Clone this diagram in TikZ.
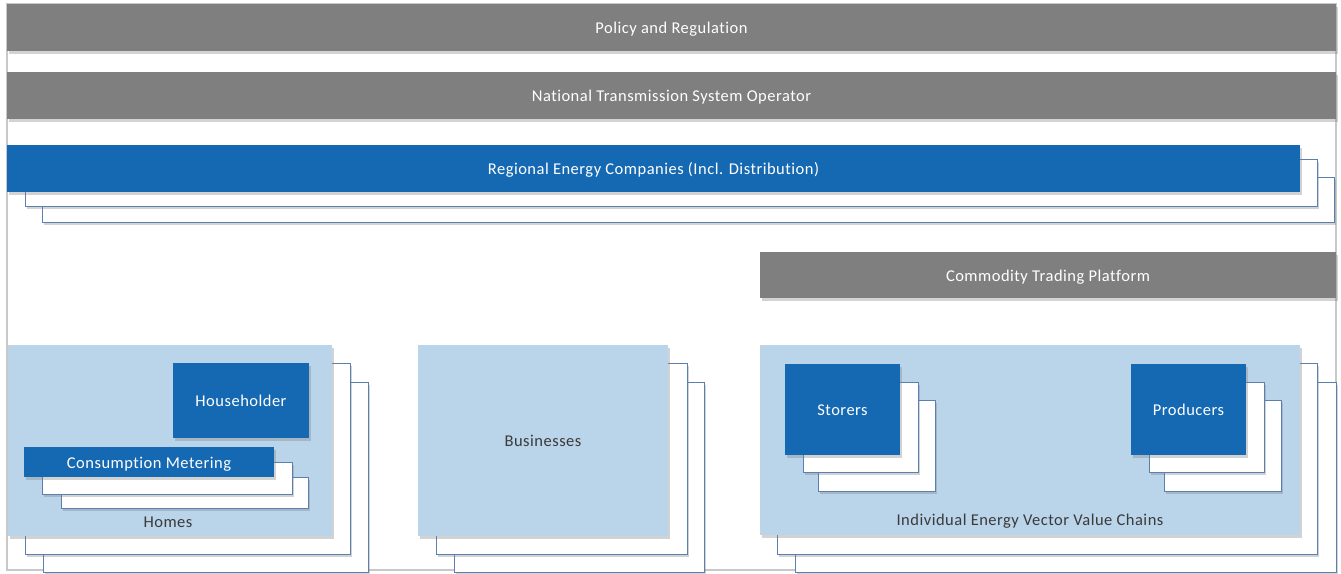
\documentclass[tikz,border=0pt]{standalone}
\usepackage{fontspec}
\setmainfont{Carlito}[LetterSpace=3, Ligatures=NoCommon]
\usetikzlibrary{shadows}
\definecolor{barGray}{HTML}{7F7F7F}
\definecolor{darkBlue}{HTML}{1569B2}
\definecolor{lightBlue}{HTML}{BAD4EA}
\definecolor{copyLine}{HTML}{5B7FB0}
\definecolor{frameGray}{HTML}{C8C8C8}
\definecolor{labelDark}{HTML}{3A3A3A}
\tikzset{
  box/.style={anchor=north west, inner sep=0pt, outer sep=0pt, draw=none,
    font=\fontsize{16.5}{19}\selectfont, text height=12.5pt, text depth=0pt,
    drop shadow={shadow xshift=2pt, shadow yshift=-3pt, opacity=0.35}},
  graybar/.style={box, fill=barGray, text=white},
  bluebox/.style={box, fill=darkBlue, text=white},
  lightbox/.style={box, fill=lightBlue, text=labelDark},
  copybox/.style={box, fill=white, draw=copyLine, line width=0.8pt},
  lbl/.style={inner sep=0pt, text=labelDark, font=\fontsize{16.5}{19}\selectfont}
}
\begin{document}
\begin{tikzpicture}[x=1pt, y=-1pt]
\useasboundingbox (0,0) rectangle (1341,573);
\draw[frameGray, line width=1.2pt] (7,4) rectangle (1336,570);

% top bars
\node[graybar, minimum width=1329pt, minimum height=47pt] (policy) at (7,4) {Policy and Regulation};
\node[graybar, minimum width=1329pt, minimum height=47pt] (ntso) at (7,72) {National Transmission System Operator};

% regional energy companies
\node[copybox, minimum width=1292pt, minimum height=45pt] (reg3) at (42,177) {};
\node[copybox, minimum width=1292pt, minimum height=47pt] (reg2) at (25,159) {};
\node[bluebox, minimum width=1293pt, minimum height=47pt] (reg) at (7,145) {Regional Energy Companies (Incl. Distribution)};

% commodity trading
\node[graybar, minimum width=576pt, minimum height=46pt] (ctp) at (760,252) {Commodity Trading Platform};

% homes
\node[copybox, minimum width=325pt, minimum height=190pt] (homes3) at (43,382) {};
\node[copybox, minimum width=325pt, minimum height=191pt] (homes2) at (25,363) {};
\node[lightbox, minimum width=324pt, minimum height=191pt] (homes) at (8,345) {};
\node[bluebox, minimum width=136pt, minimum height=75pt] (house) at (173,363) {Householder};
\node[copybox, minimum width=247pt, minimum height=31pt] (meter3) at (61,477) {};
\node[copybox, minimum width=250pt, minimum height=32pt] (meter2) at (42,462) {};
\node[bluebox, minimum width=250pt, minimum height=30pt] (meter) at (24,447) {Consumption Metering};
\node[lbl] (homeslbl) at (168,522) {Homes};

% businesses
\node[copybox, minimum width=250pt, minimum height=190pt] (bus3) at (454,382) {};
\node[copybox, minimum width=251pt, minimum height=191pt] (bus2) at (436,363) {};
\node[lightbox, minimum width=250pt, minimum height=191pt] (bus) at (418,345) {Businesses};

% value chains
\node[copybox, minimum width=541pt, minimum height=190pt] (vc3) at (795,382) {};
\node[copybox, minimum width=540pt, minimum height=191pt] (vc2) at (777,363) {};
\node[lightbox, minimum width=540pt, minimum height=190pt] (vc) at (760,345) {};
\node[copybox, minimum width=117pt, minimum height=91pt] (sto3) at (818,400) {};
\node[copybox, minimum width=115pt, minimum height=90pt] (sto2) at (803,382) {};
\node[bluebox, minimum width=115pt, minimum height=91pt] (sto) at (785,364) {Storers};
\node[copybox, minimum width=117pt, minimum height=91pt] (pro3) at (1164,400) {};
\node[copybox, minimum width=115pt, minimum height=90pt] (pro2) at (1149,382) {};
\node[bluebox, minimum width=115pt, minimum height=91pt] (pro) at (1131,364) {Producers};
\node[lbl] (vclbl) at (1030,521) {Individual Energy Vector Value Chains};
\end{tikzpicture}
\end{document}
